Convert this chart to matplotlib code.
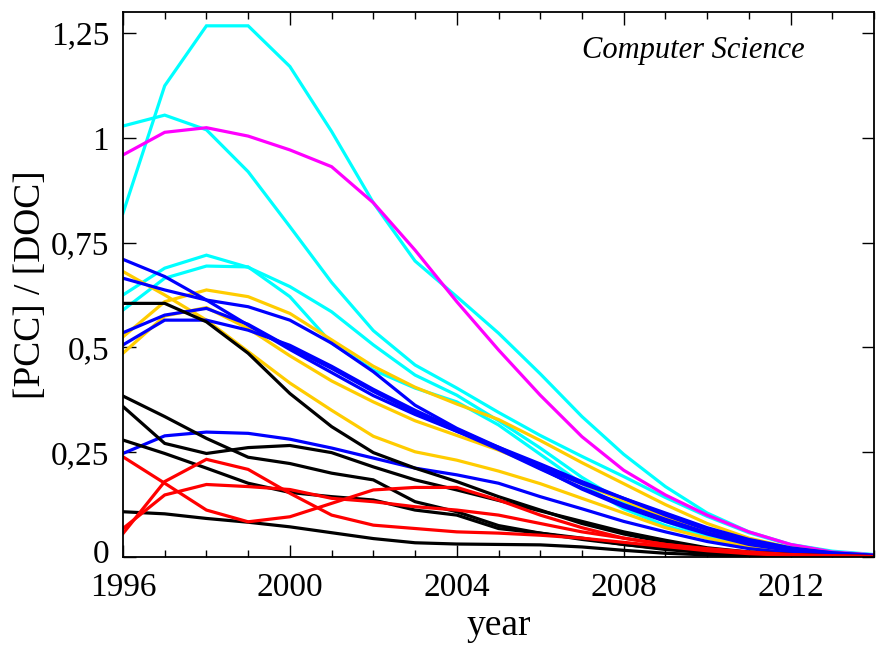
import matplotlib
matplotlib.use("Agg")
import matplotlib.pyplot as plt
import matplotlib.transforms as mtransforms
from matplotlib.ticker import FuncFormatter, MultipleLocator, FixedLocator

years = list(range(1996, 2015))

cyan_1 = [0.82, 1.124, 1.267, 1.267, 1.17, 1.015, 0.845, 0.706, 0.621, 0.534, 0.437, 0.335, 0.245, 0.168, 0.105, 0.06, 0.03, 0.014, 0.006]
cyan_2 = [1.028, 1.054, 1.019, 0.919, 0.788, 0.655, 0.54, 0.458, 0.403, 0.345, 0.29, 0.24, 0.192, 0.142, 0.097, 0.058, 0.029, 0.012, 0.005]
cyan_3 = [0.625, 0.689, 0.72, 0.691, 0.645, 0.585, 0.506, 0.434, 0.386, 0.325, 0.26, 0.19, 0.13, 0.085, 0.05, 0.03, 0.015, 0.007, 0.003]
cyan_4 = [0.589, 0.665, 0.694, 0.692, 0.621, 0.51, 0.446, 0.403, 0.37, 0.315, 0.245, 0.175, 0.115, 0.075, 0.045, 0.025, 0.012, 0.005, 0.002]
magenta_1 = [0.959, 1.013, 1.024, 1.004, 0.971, 0.931, 0.845, 0.732, 0.609, 0.494, 0.386, 0.287, 0.207, 0.148, 0.1, 0.06, 0.03, 0.012, 0.005]
yellow_1 = [0.525, 0.609, 0.637, 0.621, 0.581, 0.518, 0.455, 0.405, 0.365, 0.328, 0.278, 0.225, 0.175, 0.125, 0.08, 0.045, 0.022, 0.01, 0.004]
yellow_2 = [0.486, 0.575, 0.595, 0.545, 0.48, 0.42, 0.37, 0.325, 0.29, 0.255, 0.215, 0.175, 0.135, 0.095, 0.06, 0.035, 0.017, 0.008, 0.003]
yellow_3 = [0.681, 0.625, 0.565, 0.49, 0.415, 0.35, 0.288, 0.251, 0.231, 0.205, 0.175, 0.14, 0.105, 0.07, 0.045, 0.025, 0.012, 0.006, 0.002]
blue_1 = [0.71, 0.669, 0.613, 0.553, 0.495, 0.44, 0.385, 0.34, 0.3, 0.262, 0.222, 0.18, 0.14, 0.1, 0.065, 0.038, 0.02, 0.01, 0.004]
blue_2 = [0.665, 0.637, 0.613, 0.597, 0.565, 0.51, 0.442, 0.362, 0.307, 0.262, 0.215, 0.175, 0.14, 0.105, 0.07, 0.042, 0.022, 0.01, 0.004]
blue_3 = [0.535, 0.577, 0.593, 0.555, 0.5, 0.45, 0.395, 0.345, 0.3, 0.257, 0.21, 0.165, 0.125, 0.09, 0.058, 0.033, 0.017, 0.008, 0.003]
blue_4 = [0.506, 0.565, 0.565, 0.541, 0.505, 0.455, 0.4, 0.35, 0.305, 0.26, 0.212, 0.162, 0.12, 0.085, 0.055, 0.03, 0.015, 0.007, 0.003]
blue_5 = [0.247, 0.289, 0.298, 0.295, 0.281, 0.26, 0.236, 0.212, 0.196, 0.176, 0.144, 0.115, 0.085, 0.06, 0.037, 0.02, 0.01, 0.005, 0.002]
black_1 = [0.605, 0.605, 0.561, 0.486, 0.39, 0.311, 0.249, 0.212, 0.18, 0.144, 0.112, 0.08, 0.055, 0.035, 0.02, 0.01, 0.005, 0.002, 0.001]
black_2 = [0.384, 0.335, 0.283, 0.238, 0.223, 0.2, 0.184, 0.132, 0.108, 0.075, 0.057, 0.045, 0.03, 0.018, 0.01, 0.005, 0.002, 0.001, 0.0]
black_3 = [0.359, 0.271, 0.247, 0.261, 0.266, 0.249, 0.215, 0.184, 0.16, 0.135, 0.11, 0.085, 0.06, 0.04, 0.022, 0.012, 0.006, 0.003, 0.001]
black_4 = [0.279, 0.247, 0.212, 0.176, 0.154, 0.144, 0.136, 0.112, 0.1, 0.068, 0.057, 0.042, 0.03, 0.02, 0.012, 0.006, 0.003, 0.001, 0.0]
black_5 = [0.108, 0.103, 0.092, 0.083, 0.072, 0.058, 0.044, 0.034, 0.031, 0.03, 0.029, 0.024, 0.016, 0.009, 0.005, 0.002, 0.001, 0.0, 0.0]
red_1 = [0.239, 0.176, 0.112, 0.084, 0.096, 0.128, 0.16, 0.166, 0.166, 0.136, 0.1, 0.07, 0.045, 0.03, 0.018, 0.01, 0.005, 0.002, 0.001]
red_2 = [0.056, 0.18, 0.233, 0.209, 0.152, 0.1, 0.076, 0.068, 0.06, 0.057, 0.052, 0.045, 0.035, 0.025, 0.015, 0.008, 0.004, 0.002, 0.001]
red_3 = [0.068, 0.148, 0.173, 0.168, 0.161, 0.14, 0.132, 0.12, 0.112, 0.1, 0.08, 0.06, 0.045, 0.03, 0.02, 0.012, 0.006, 0.003, 0.001]

groups = [
    ("#00FFFF", [cyan_1, cyan_2, cyan_3, cyan_4]),
    ("#FF00FF", [magenta_1]),
    ("#FFCC00", [yellow_1, yellow_2, yellow_3]),
    ("#0000FF", [blue_1, blue_2, blue_3, blue_4, blue_5]),
    ("#000000", [black_1, black_2, black_3, black_4, black_5]),
    ("#FF0000", [red_1, red_2, red_3]),
]

x_major = [1996, 2000, 2004, 2008, 2012]
y_major = [0, 0.25, 0.5, 0.75, 1.0, 1.25]
y_labels = ["0", "0,25", "0,5", "0,75", "1", "1,25"]

plt.rcParams['font.family'] = ['Liberation Serif', 'DejaVu Serif']
fig = plt.figure(figsize=(8.86, 6.48), dpi=100)
ax = fig.add_axes([0.1388, 0.1404, 0.8477, 0.8411])

for color, series in groups:
    for s in series:
        ax.plot(years, s, color=color, lw=2.3, solid_joinstyle='miter')

ax.set_xlim(1996, 2014)
ax.set_ylim(0, 1.3)
ax.xaxis.set_major_locator(FixedLocator(x_major))
ax.xaxis.set_minor_locator(MultipleLocator(1))
ax.yaxis.set_major_locator(FixedLocator(y_major))
ax.yaxis.set_major_formatter(FuncFormatter(lambda v, p: y_labels[y_major.index(round(v, 2))] if round(v, 2) in y_major else ""))
ax.tick_params(which='both', direction='in', top=True, right=True, width=1.0)
ax.tick_params(which='major', length=9)
ax.tick_params(which='minor', length=5)
ax.tick_params(axis='x', which='major', labelsize=24, pad=11)
ax.tick_params(axis='y', which='major', labelsize=24, pad=10)
for sp in ax.spines.values():
    sp.set_linewidth(1.3)

ax.set_xlabel("year", fontsize=27, labelpad=4)
ax.set_ylabel("[PCC] / [DOC]", fontsize=27, labelpad=2)
ax.text(0.907, 0.930, "Computer Science", transform=ax.transAxes, ha='right', va='center',
        fontsize=22, style='italic')

fig.canvas.draw()
# nudge the "0" label up slightly so it does not collide with "1996"
for lbl in ax.get_yticklabels():
    if lbl.get_text() == "0":
        lbl.set_verticalalignment('center_baseline')
        lbl.set_transform(lbl.get_transform() + mtransforms.ScaledTranslation(0, 4 / 72, fig.dpi_scale_trans))

fig.savefig("out.png", dpi=100)
